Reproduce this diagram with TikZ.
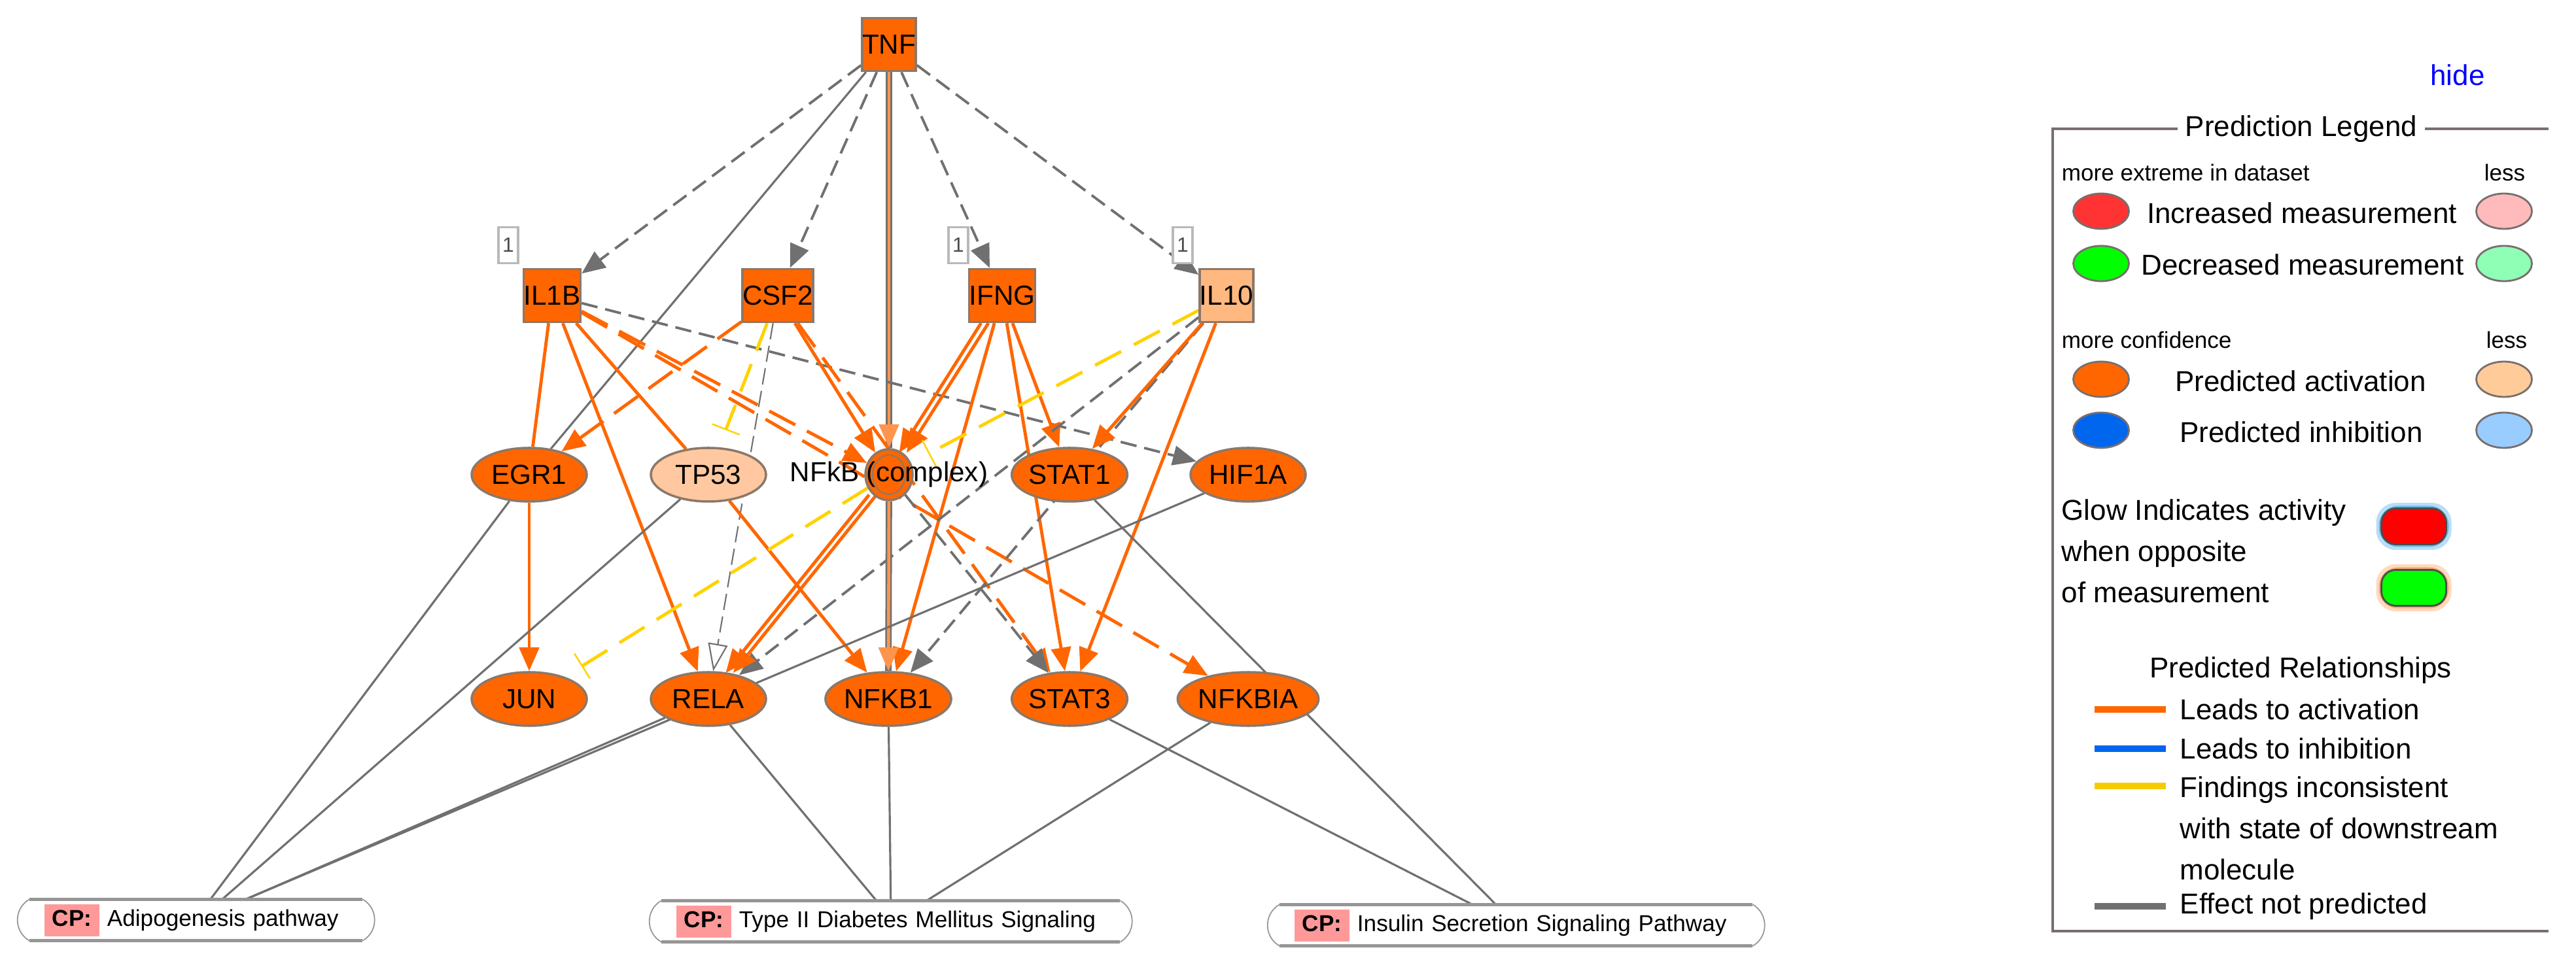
\documentclass[tikz,border=0pt]{standalone}
\usepackage{fontspec}
\setmainfont{Liberation Sans}
\usetikzlibrary{positioning, arrows.meta, shapes.geometric}

\definecolor{ipaorange}{RGB}{255,102,0}
\definecolor{ipapeach}{RGB}{255,200,160}
\definecolor{ipalight}{RGB}{255,184,128}
\definecolor{nodeborder}{RGB}{140,120,105}
\definecolor{edgegray}{RGB}{112,112,112}
\definecolor{ipayellow}{RGB}{255,210,0}
\definecolor{cppink}{RGB}{255,153,153}
\definecolor{cpframe}{RGB}{150,150,150}
\definecolor{legframe}{RGB}{120,110,110}
\definecolor{legred}{RGB}{255,51,51}
\definecolor{legpink}{RGB}{255,187,187}
\definecolor{leggreen}{RGB}{0,255,0}
\definecolor{legmint}{RGB}{143,255,181}
\definecolor{legpeach}{RGB}{255,204,153}
\definecolor{legblue}{RGB}{0,102,238}
\definecolor{legsky}{RGB}{153,204,255}
\definecolor{legyellow}{RGB}{245,204,0}
\definecolor{glowbluelight}{RGB}{185,222,246}
\definecolor{glowbluemid}{RGB}{110,185,235}
\definecolor{gloworangelight}{RGB}{255,218,190}
\definecolor{gloworangemid}{RGB}{255,170,120}

\pgfdeclarelayer{background}
\pgfsetlayers{background,main}

% pink tag in front of a canonical pathway name
\newcommand{\cptag}{{\setlength{\fboxsep}{0pt}\colorbox{cppink}{\rule[-0.15cm]{0pt}{0.49cm}\hspace{0.12cm}\textbf{CP:}\hspace{0.12cm}}}}
% outline of a canonical pathway box
\newcommand{\cpoutline}[1]{%
  \draw[cprim] ([xshift=0.18cm]#1.north west) -- ([xshift=-0.18cm]#1.north east);
  \draw[cprim] ([xshift=0.18cm]#1.south west) -- ([xshift=-0.18cm]#1.south east);
  \draw[cpside] ([xshift=0.18cm]#1.north west) to[out=210, in=150, looseness=1.14] ([xshift=0.18cm]#1.south west);
  \draw[cpside] ([xshift=-0.18cm]#1.north east) to[out=-30, in=30, looseness=1.14] ([xshift=-0.18cm]#1.south east);
}

\begin{document}
\begin{tikzpicture}[
    % Styles
    molbox/.style={rectangle, draw=nodeborder, line width=1pt, fill=ipaorange, minimum width=0.8cm, minimum height=0.81cm, inner sep=0pt, font=\fontsize{12}{14}\selectfont},
    molell/.style={ellipse, draw=nodeborder, line width=1pt, fill=ipaorange, minimum width=1.76cm, minimum height=0.82cm, inner sep=0pt, font=\fontsize{12}{14}\selectfont},
    counttag/.style={rectangle, draw=gray!55, fill=white, line width=0.9pt, minimum width=0.3cm, minimum height=0.55cm, inner sep=0pt, font=\fontsize{9}{10}\selectfont, text=black!70},
    act/.style={-{Triangle[length=0.36cm, width=0.3cm]}, line width=1.4pt, ipaorange},
    actplain/.style={line width=1.4pt, ipaorange},
    actdash/.style={act, dash pattern=on 0.45cm off 0.2cm},
    nopred/.style={-{Triangle[length=0.36cm, width=0.3cm]}, line width=1.1pt, edgegray, dash pattern=on 0.25cm off 0.12cm},
    nopredopen/.style={-{Triangle[length=0.42cm, width=0.3cm, fill=white]}, line width=0.6pt, edgegray, dash pattern=on 0.25cm off 0.1cm},
    link/.style={line width=0.9pt, edgegray},
    inconsist/.style={-{Bar[width=0.45cm, line width=0.7pt]}, line width=1.4pt, ipayellow, dash pattern=on 0.45cm off 0.22cm},
    cpbox/.style={rectangle, anchor=west, minimum height=0.62cm, inner xsep=0.4cm, inner ysep=0.04cm, align=left, font=\fontsize{10}{12}\selectfont},
    cprim/.style={line width=1.3pt, cpframe},
    cpside/.style={line width=0.5pt, cpframe},
    legrule/.style={line width=0.9pt, legframe},
    legdot/.style={ellipse, draw=legframe, line width=0.8pt, minimum width=0.85cm, minimum height=0.54cm, inner sep=0pt},
    legpill/.style={rectangle, rounded corners=0.22cm, draw=gray!60!black, line width=0.8pt, minimum width=0.99cm, minimum height=0.55cm, inner sep=0pt},
    leghalo/.style={rectangle, rounded corners=0.3cm, minimum width=1.15cm, minimum height=0.72cm, inner sep=0pt},
    legtext/.style={font=\fontsize{12.5}{17.9}\selectfont, inner sep=0pt},
    legsmall/.style={font=\fontsize{10}{12}\selectfont, inner sep=0pt},
    legline/.style={line width=3pt},
]

\useasboundingbox (0,0) rectangle (39.38,-14.85);

% Upstream cytokines
\node[molbox] (tnf) at (13.59,-0.68) {TNF};
\node[molbox] (il1b) at (8.44,-4.52) {IL1B};
\node[molbox] (csf2) at (11.89,-4.52) {CSF2};
\node[molbox] (ifng) at (15.32,-4.52) {IFNG};
\node[molbox, fill=ipalight] (il10) at (18.75,-4.52) {IL10};

\node[counttag] (cnt1) at (7.77,-3.75) {1};
\node[counttag] (cnt2) at (14.65,-3.75) {1};
\node[counttag] (cnt3) at (18.08,-3.75) {1};

% Middle row
\node[molell] (egr1) at (8.09,-7.26) {EGR1};
\node[molell, fill=ipapeach] (tp53) at (10.83,-7.26) {TP53};
\node[molell, minimum width=0.72cm, minimum height=0.78cm] (nfkb) at (13.59,-7.26) {};
\node[ellipse, draw=nodeborder, line width=0.6pt, minimum width=0.5cm, minimum height=0.6cm, inner sep=0pt] (nfkbring) at (nfkb) {};
\node[font=\fontsize{12}{14}\selectfont, inner sep=0pt] (nfkbname) at (nfkb) {NFkB (complex)};
\node[molell] (stat1) at (16.35,-7.26) {STAT1};
\node[molell] (hif1a) at (19.08,-7.26) {HIF1A};

% Bottom row
\node[molell] (jun) at (8.09,-10.69) {JUN};
\node[molell] (rela) at (10.83,-10.69) {RELA};
\node[molell] (nfkb1) at (13.58,-10.69) {NFKB1};
\node[molell] (stat3) at (16.35,-10.69) {STAT3};
\node[molell] (nfkbia) at (19.08,-10.69) {NFKBIA};

% Canonical pathways
\node[cpbox, text width=4.64cm] (cpA) at (0.27,-14.07) {\cptag\ Adipogenesis pathway};
\node[cpbox, text width=6.56cm] (cpB) at (9.93,-14.09) {\cptag\ Type II Diabetes Mellitus Signaling};
\node[cpbox, text width=6.78cm] (cpC) at (19.38,-14.15) {\cptag\ Insulin Secretion Signaling Pathway};
\cpoutline{cpA}
\cpoutline{cpB}
\cpoutline{cpC}

\begin{pgfonlayer}{background}
    % from TNF
    \draw[nopred] (tnf) -- (il1b);
    \draw[nopred] (tnf) -- (csf2);
    \draw[nopred] (tnf) -- (ifng);
    \draw[nopred] (tnf) -- (il10);
    \draw[link] (tnf) -- (egr1);
    \draw[link, line width=2.8pt] (tnf) -- (nfkb);
    \draw[act, line width=1.3pt, ipaorange!70!white] (tnf) -- (nfkb);

    % from IL1B
    \draw[actplain] (il1b) -- (egr1);
    \draw[actplain] (il1b) -- (tp53);
    \draw[act] (il1b) -- (rela);
    \draw[actdash] (il1b) -- (nfkb);
    \draw[actdash] (il1b) -- (nfkbia);
    \draw[nopred] (il1b) -- (hif1a);

    % from CSF2
    \draw[actdash] (csf2) -- (egr1);
    \draw[inconsist, shorten >=0.28cm] (csf2) -- (tp53);
    \draw[nopredopen] (csf2) -- (rela);
    \draw[act] (csf2) -- (nfkb);
    \draw[actdash] (csf2) -- (stat3);

    % from IFNG
    \draw[act, transform canvas={xshift=-1.6pt}] (ifng) -- (nfkb);
    \draw[act, transform canvas={xshift=1.6pt}] (ifng) -- (nfkb);
    \draw[act] (ifng) -- (nfkb1);
    \draw[act] (ifng) -- (stat1);
    \draw[act] (ifng) -- (stat3);

    % from IL10
    \draw[inconsist, shorten >=0.3cm] (il10) -- (nfkb);
    \draw[nopred] (il10) -- (rela);
    \draw[nopred] (il10) -- (nfkb1);
    \draw[act] (il10) -- (stat1);
    \draw[act] (il10) -- (stat3);

    % middle row to bottom row
    \draw[act] (egr1) -- (jun);
    \draw[act] (tp53) -- (nfkb1);
    \draw[act, transform canvas={xshift=-1.6pt}] (nfkb) -- (rela);
    \draw[act, transform canvas={xshift=1.6pt}] (nfkb) -- (rela);
    \draw[link, line width=2.8pt] (nfkb) -- (nfkb1);
    \draw[act, line width=1.3pt, ipaorange!70!white] (nfkb) -- (nfkb1);
    \draw[nopred] (nfkb) -- (stat3);
    \draw[inconsist, shorten >=0.3cm] (nfkb) -- (jun);

    % links to canonical pathways
    \draw[link] (egr1) -- ([xshift=0.22cm]cpA.north);
    \draw[link] (tp53) -- ([xshift=0.40cm]cpA.north);
    \draw[link] (rela) -- ([xshift=0.76cm]cpA.north);
    \draw[link] (hif1a) -- ([xshift=0.76cm]cpA.north);
    \draw[link] (rela) -- ([xshift=-0.22cm]cpB.north);
    \draw[link] (nfkb1) -- (cpB.north);
    \draw[link] (nfkbia) -- ([xshift=0.55cm]cpB.north);
    \draw[link] (stat3) -- ([xshift=-0.67cm]cpC.north);
    \draw[link] (stat1) -- ([xshift=-0.31cm]cpC.north);
\end{pgfonlayer}

% Legend
\node[legtext, text=blue] (hide) at (37.57,-1.15) {hide};
\coordinate (legne) at (38.96,-1.97);
\coordinate (legnw) at (31.38,-1.97);
\coordinate (legsw) at (31.38,-14.24);
\coordinate (legse) at (38.96,-14.24);
\draw[legrule] (legne) -- (legnw) -- (legsw) -- (legse);
\node[legtext, fill=white, inner xsep=0.12cm, inner ysep=0.05cm] (legtitle) at (35.18,-1.97) {Prediction Legend};

\node[legsmall, anchor=west] (extremehdr) at (31.51,-2.64) {more extreme in dataset};
\node[legsmall] (extremeless) at (38.29,-2.64) {less};
\node[legdot, fill=legred] (incmore) at (32.12,-3.23) {};
\node[legtext] (inclbl) at (35.19,-3.26) {Increased measurement};
\node[legdot, fill=legpink] (incless) at (38.28,-3.23) {};
\node[legdot, fill=leggreen] (decmore) at (32.12,-4.03) {};
\node[legtext] (declbl) at (35.20,-4.05) {Decreased measurement};
\node[legdot, fill=legmint] (decless) at (38.28,-4.03) {};

\node[legsmall, anchor=west] (confhdr) at (31.51,-5.20) {more confidence};
\node[legsmall] (confless) at (38.32,-5.20) {less};
\node[legdot, fill=ipaorange] (actmore) at (32.12,-5.80) {};
\node[legtext] (actlbltop) at (35.17,-5.83) {Predicted activation};
\node[legdot, fill=legpeach] (actless) at (38.28,-5.80) {};
\node[legdot, fill=legblue] (inhmore) at (32.12,-6.58) {};
\node[legtext] (inhlbltop) at (35.18,-6.61) {Predicted inhibition};
\node[legdot, fill=legsky] (inhless) at (38.28,-6.58) {};

\node[legtext, anchor=west, align=left] (glowlbl) at (31.51,-8.43) {Glow Indicates activity\\when opposite\\of measurement};
\node[leghalo, fill=glowbluelight] (redglowout) at (36.90,-8.05) {};
\node[leghalo, fill=glowbluemid, minimum width=1.07cm, minimum height=0.63cm] (redglowin) at (redglowout) {};
\node[legpill, fill=red] (redpill) at (redglowout) {};
\node[leghalo, fill=gloworangelight] (greenglowout) at (36.90,-8.99) {};
\node[leghalo, fill=gloworangemid, minimum width=1.07cm, minimum height=0.63cm] (greenglowin) at (greenglowout) {};
\node[legpill, fill=leggreen] (greenpill) at (greenglowout) {};

\node[legtext] (relhdr) at (35.17,-10.25) {Predicted Relationships};
\node[legtext, anchor=west] (actlbl) at (33.32,-10.85) {Leads to activation};
\node[legtext, anchor=west] (inhlbl) at (33.32,-11.45) {Leads to inhibition};
\node[legtext, anchor=west, align=left] (inconlbl) at (33.32,-12.67) {Findings inconsistent\\with state of downstream\\molecule};
\node[legtext, anchor=west] (nplbl) at (33.32,-13.86) {Effect not predicted};
\draw[legline, ipaorange] ([xshift=-0.21cm]actlbl.west) -- ++(-1.09,0);
\draw[legline, legblue] ([xshift=-0.21cm]inhlbl.west) -- ++(-1.09,0);
\draw[legline, legyellow] ([xshift=-0.21cm, yshift=0.65cm]inconlbl.west) -- ++(-1.09,0);
\draw[legline, edgegray] ([xshift=-0.21cm]nplbl.west) -- ++(-1.09,0);

\end{tikzpicture}
\end{document}
